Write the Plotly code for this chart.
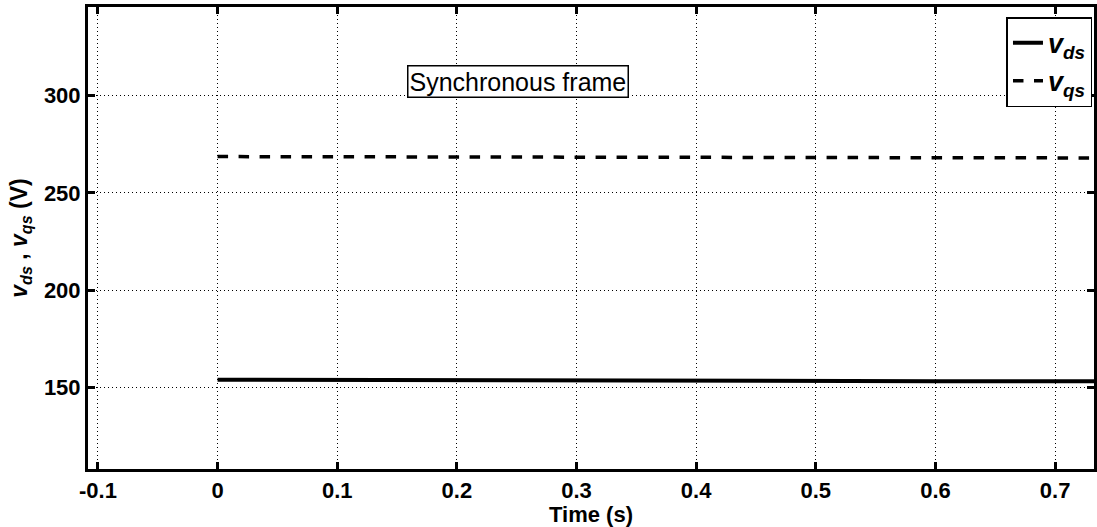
import plotly.graph_objects as go

time_s = [0.0, 0.1, 0.2, 0.3, 0.4, 0.5, 0.6, 0.7, 0.735]
v_ds = [154.0, 153.8, 153.7, 153.6, 153.5, 153.4, 153.3, 153.2, 153.2]
v_qs = [268.6, 268.5, 268.4, 268.3, 268.2, 268.1, 268.0, 267.9, 267.9]

x_ticks = [-0.1, 0, 0.1, 0.2, 0.3, 0.4, 0.5, 0.6, 0.7]
x_tick_labels = ["-0.1", "0", "0.1", "0.2", "0.3", "0.4", "0.5", "0.6", "0.7"]
y_ticks = [150, 200, 250, 300]

font_family = "Liberation Sans, Arial, sans-serif"

fig = go.Figure()
fig.add_trace(go.Scatter(
    x=time_s, y=v_ds, mode="lines",
    line=dict(color="black", width=4),
    name="<b><i>v</i></b><sub><b><i>ds</i></b></sub>",
))
fig.add_trace(go.Scatter(
    x=time_s, y=v_qs, mode="lines",
    line=dict(color="black", width=3.5, dash="dash"),
    name="<b><i>v</i></b><sub><b><i>qs</i></b></sub>",
))

fig.update_layout(
    width=1097, height=527,
    margin=dict(l=88, r=0, t=7, b=58),
    paper_bgcolor="white", plot_bgcolor="white",
    font=dict(family=font_family, color="black"),
    showlegend=True,
    legend=dict(
        x=0.913, y=0.978, xanchor="left", yanchor="top",
        bgcolor="white", bordercolor="black", borderwidth=1.5,
        font=dict(size=27, family=font_family, color="black"),
        itemwidth=30, tracegroupgap=0,
    ),
    xaxis=dict(
        range=[-0.1083, 0.7325],
        tickvals=x_ticks, ticktext=x_tick_labels,
        tickfont=dict(size=22, family=font_family, color="black", weight="bold"),
        ticks="inside", ticklen=7, tickwidth=3, tickcolor="black",
        showline=True, linecolor="black", linewidth=3, mirror="ticks",
        showgrid=True, gridcolor="black", gridwidth=1, griddash="1px,3px",
        zeroline=False,
        title=dict(text="<b>Time (s)</b>", font=dict(size=22, family=font_family), standoff=0),
    ),
    yaxis=dict(
        range=[108.2, 345.4],
        tickvals=y_ticks,
        tickfont=dict(size=22, family=font_family, color="black", weight="bold"),
        ticks="inside", ticklen=7, tickwidth=3, tickcolor="black",
        showline=True, linecolor="black", linewidth=3, mirror="ticks",
        showgrid=True, gridcolor="black", gridwidth=1, griddash="1px,3px",
        zeroline=False,
        title=dict(text="<b><i>v</i><sub><i>ds</i></sub> , <i>v</i><sub><i>qs</i></sub> (V)</b>",
                   font=dict(size=23, family=font_family), standoff=10),
    ),
    annotations=[dict(
        x=0.251, y=307.0, xref="x", yref="y",
        text="Synchronous frame", showarrow=False,
        font=dict(size=25, family=font_family, color="black"),
        bgcolor="white", bordercolor="black", borderwidth=1.5, borderpad=1,
    )],
)

fig.write_html("out.html")
